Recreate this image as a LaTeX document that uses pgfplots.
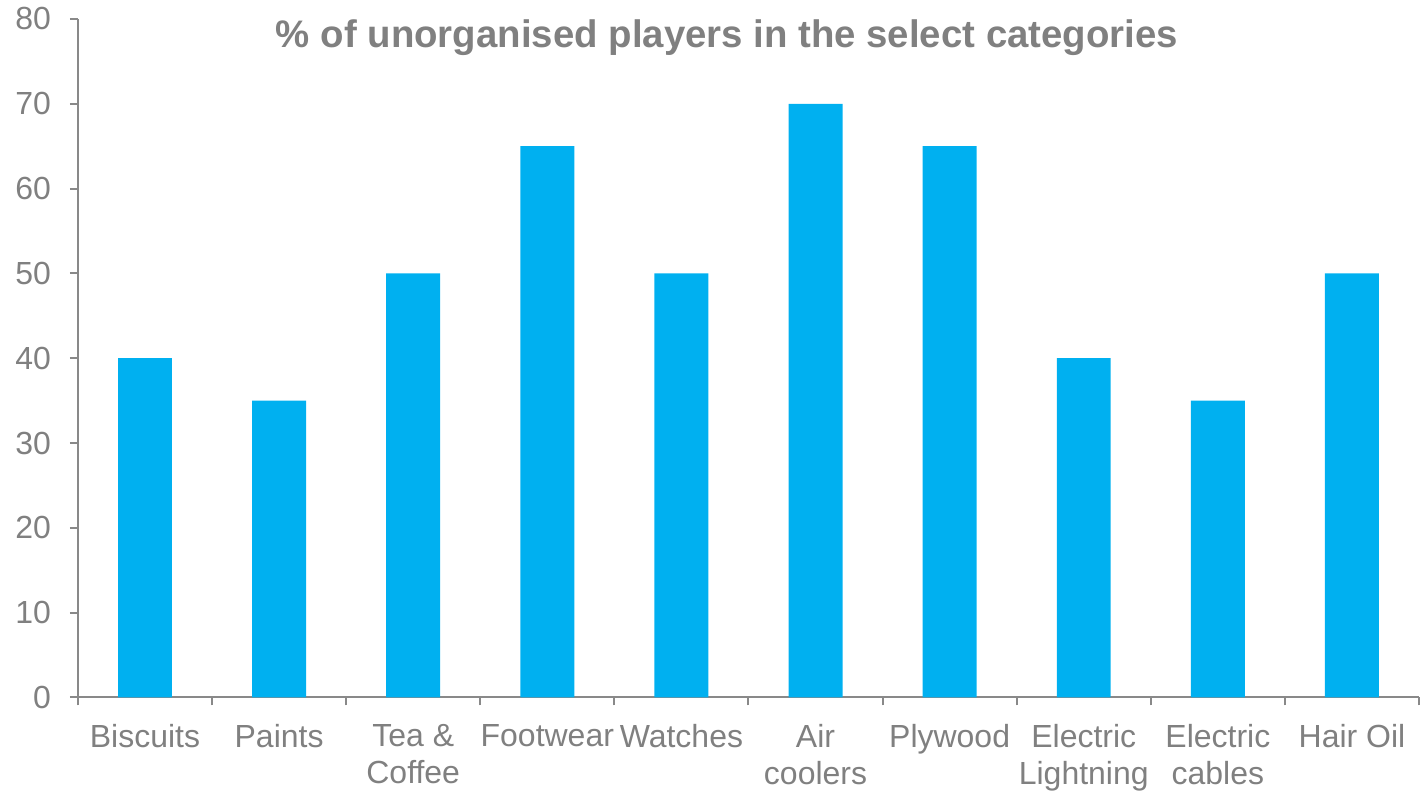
\documentclass[border=0pt]{standalone}
\usepackage{pgfplots}
\pgfplotsset{compat=1.18}
\usepackage{fontspec}
\setmainfont{Liberation Sans}
\definecolor{barblue}{HTML}{00B0F0}
\definecolor{txtgray}{HTML}{808080}
\definecolor{axgray}{HTML}{898989}
\begin{document}
\begin{tikzpicture}
\begin{axis}[
  scale only axis,
  width=671pt, height=339.5pt,
  xmin=-0.5, xmax=9.5, ymin=0, ymax=80,
  axis x line=bottom, axis y line=left,
  axis line style={-, draw=axgray, line width=1pt},
  ytick={0,10,...,80},
  xtick={0,...,9},
  xticklabels={Biscuits, Paints, {Tea \&\\Coffee}, Footwear, Watches, {Air\\coolers}, Plywood, {Electric\\Lightning}, {Electric\\cables}, Hair Oil},
  minor xtick={-0.5,0.5,...,9.5},
  tick align=outside,
  major tick length=4pt, minor tick length=4pt,
  xtick style={draw=none},
  minor x tick style={draw=axgray, line width=1pt},
  ytick style={draw=axgray, line width=1pt},
  xticklabel style={align=center, font=\fontsize{16}{18.3}\selectfont, text=txtgray, yshift=-6pt},
  yticklabel style={font=\fontsize{16}{19}\selectfont, text=txtgray, xshift=-6pt},
  /pgf/number format/assume math mode=true,
  clip=false,
]
\addplot[ybar, bar width=27pt, fill=barblue, draw=none] coordinates {
(0,40) (1,35) (2,50) (3,65) (4,50) (5,70) (6,65) (7,40) (8,35) (9,50)};
\node[font=\bfseries\fontsize{19.2}{23}\selectfont, text=txtgray] at (rel axis cs:0.484,0.972) {\% of unorganised players in the select categories};
\path ([xshift=-39pt,yshift=-46.5pt]rel axis cs:0,0) ([yshift=9.5pt]rel axis cs:1,1);
\end{axis}
\end{tikzpicture}
\end{document}
